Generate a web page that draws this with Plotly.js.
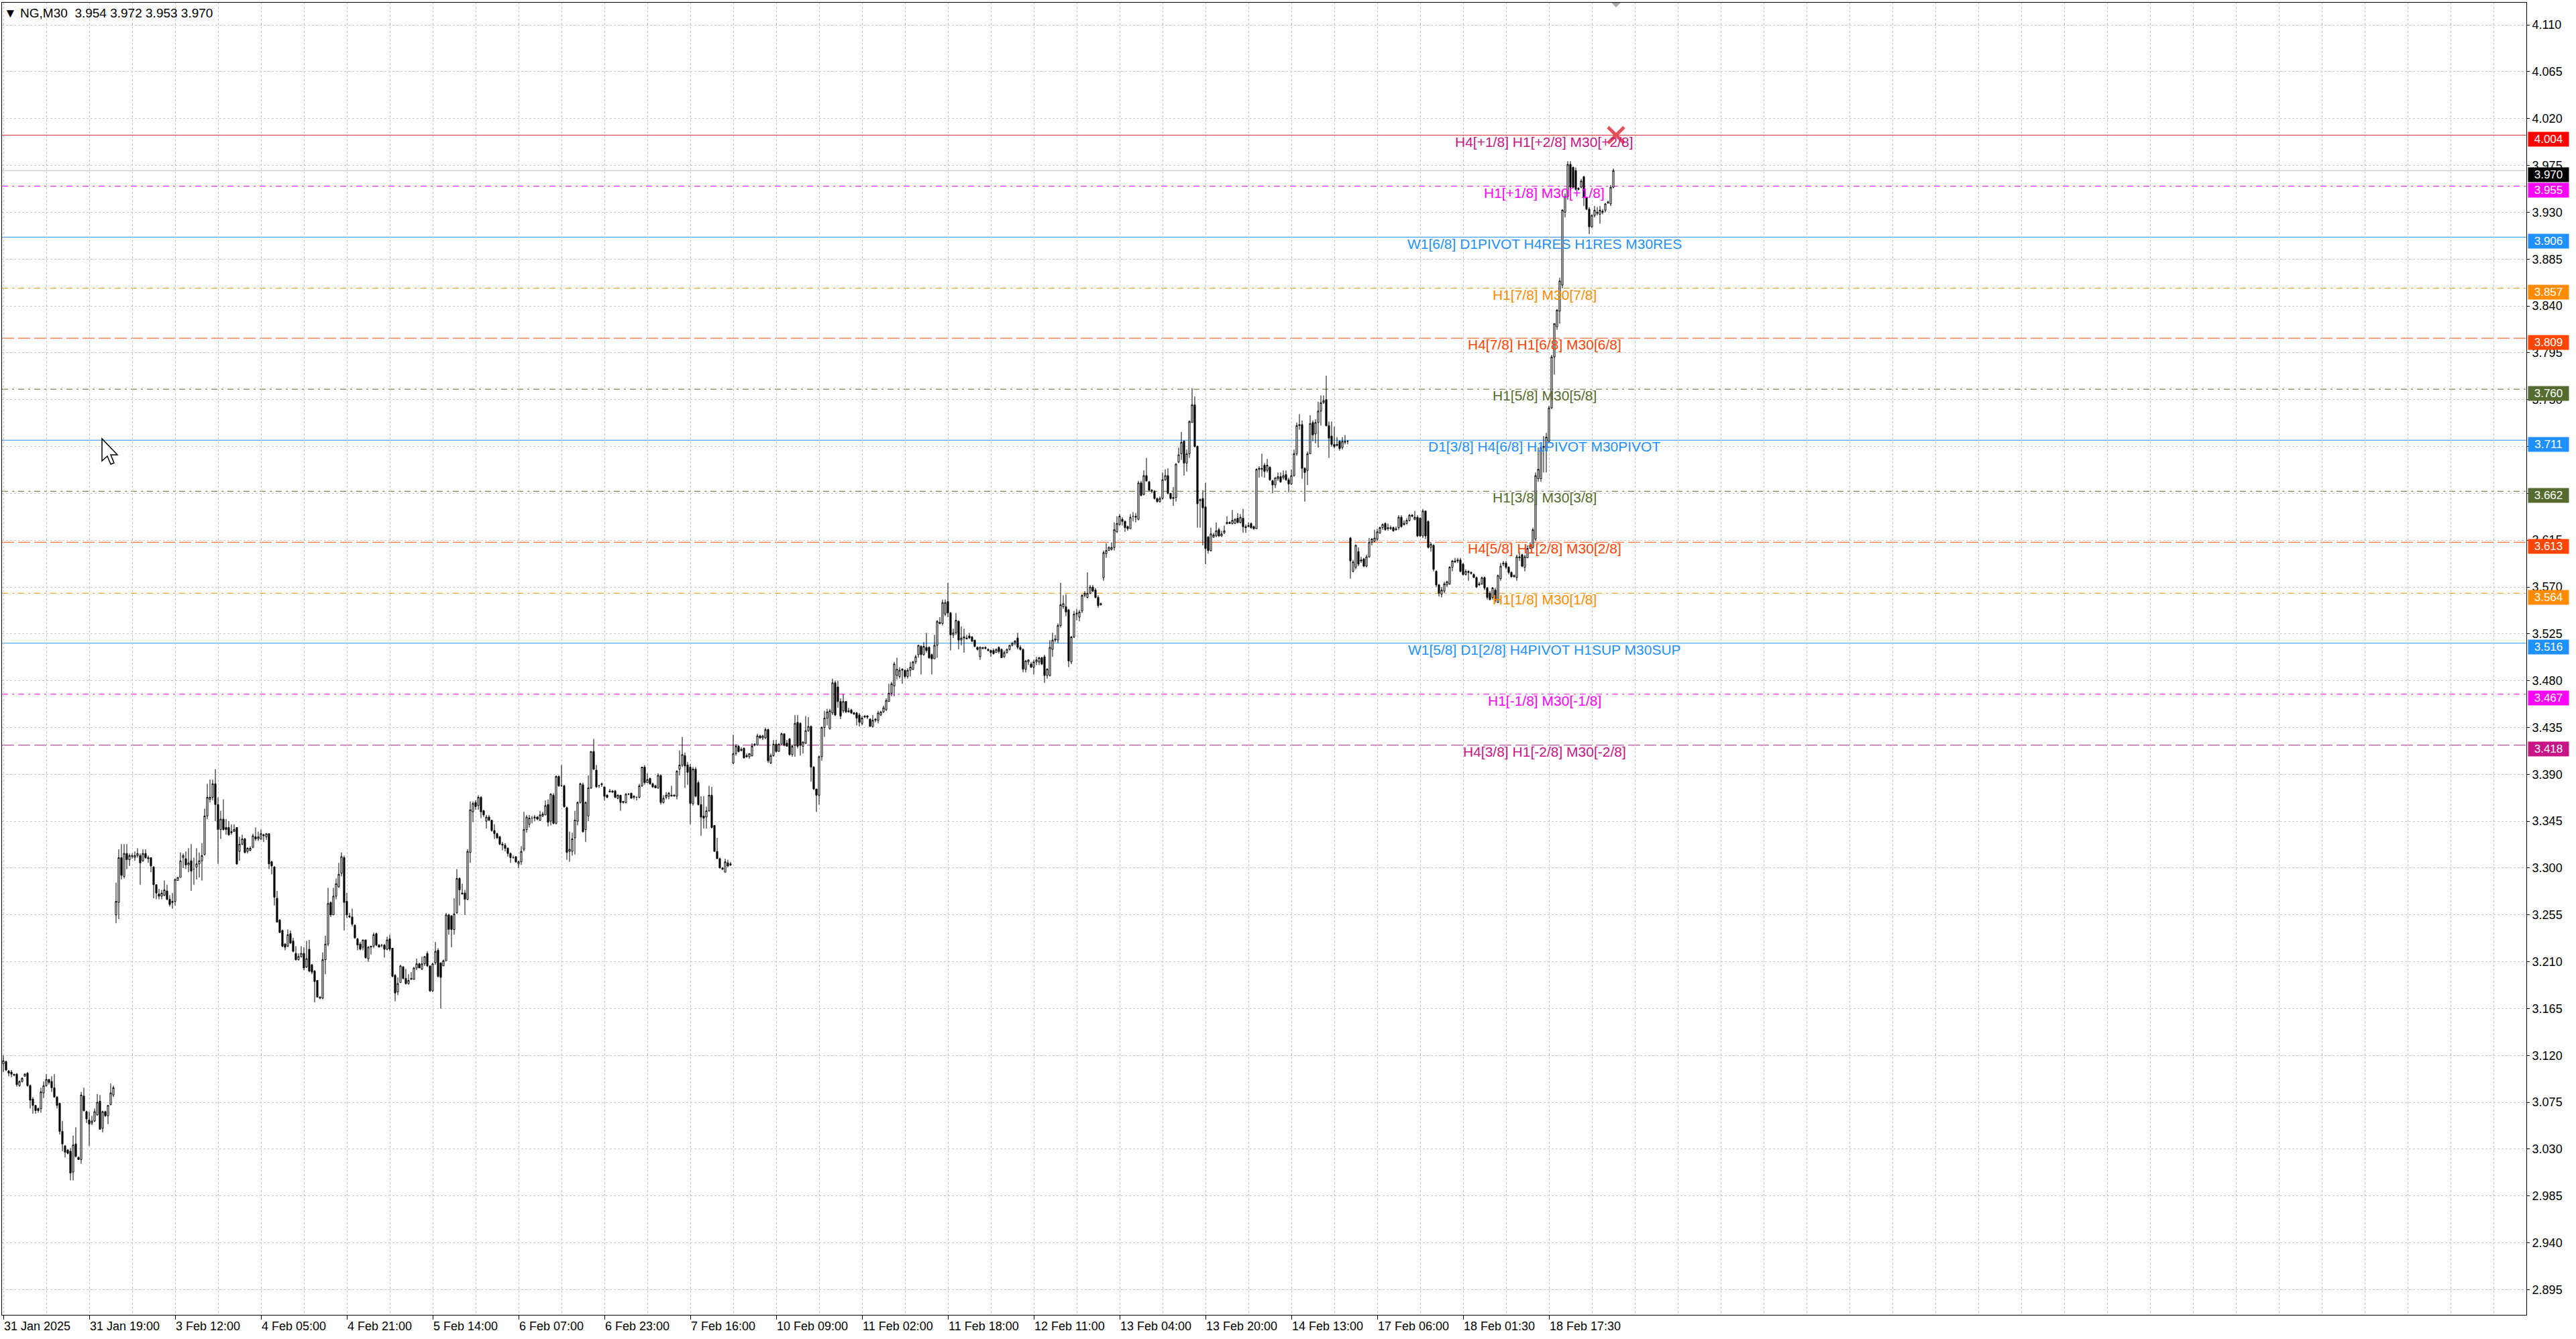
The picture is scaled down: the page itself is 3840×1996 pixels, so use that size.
<!DOCTYPE html>
<html><head><meta charset="utf-8">
<script src="https://cdn.plot.ly/plotly-3.0.1.min.js"></script>
<style>html,body{margin:0;padding:0;background:#fff;}#chart{width:3840px;height:1996px;}</style>
</head><body><div id="chart"></div>
<script>
// ---------------- DATA ----------------
const symbolName = "NG,M30";
const lastBar = [3.954, 3.972, 3.953, 3.970];

const openP = [
3.112,3.114,3.105,3.104,3.102,3.102,3.091,3.095,3.100,3.103,3.091,3.078,3.072,3.069,3.069,3.084,3.091,3.097,3.095,3.089,
3.080,3.074,3.047,3.033,3.029,3.028,3.008,3.035,3.022,3.020,3.081,3.066,3.058,3.055,3.057,3.063,3.076,3.050,3.066,3.062,
3.073,3.082,
3.255,3.267,3.310,3.292,3.314,3.308,3.311,3.310,3.312,3.312,3.307,3.314,3.310,3.310,3.301,3.284,3.275,3.273,3.274,3.278,
3.270,3.268,3.268,3.288,3.291,3.310,3.309,3.303,3.307,3.299,3.301,3.304,3.307,3.313,3.350,3.366,3.368,3.381,3.361,3.337,
3.347,3.339,3.339,3.335,3.335,3.339,3.316,3.323,3.328,3.316,3.317,3.320,3.330,3.328,3.328,3.332,3.330,3.333,3.306,3.301,
3.271,3.250,3.240,3.227,3.225,3.237,3.230,3.218,3.212,3.215,3.218,3.205,3.222,3.207,3.201,3.192,3.175,3.175,3.212,3.227,
3.267,3.255,
3.273,3.282,3.295,3.310,3.268,3.254,3.253,3.245,3.232,3.227,3.224,3.231,3.213,3.224,3.225,3.237,3.226,3.226,3.226,3.222,
3.232,3.223,3.197,3.181,3.190,3.205,3.194,3.189,3.194,3.193,3.204,3.208,3.203,3.208,3.218,3.206,3.182,3.209,3.221,3.209,
3.206,3.211,3.255,3.254,3.241,3.257,3.290,3.276,3.276,3.270,3.315,3.354,3.363,3.360,3.368,3.355,3.345,3.349,3.346,3.336,
3.333,3.330,3.323,3.322,3.319,3.314,3.310,3.311,3.304,3.306,3.318,3.337,3.342,3.348,3.348,3.349,3.346,3.350,3.351,3.361,
3.345,3.370,3.343,3.388,3.379,3.379,3.358,3.316,3.316,3.329,3.345,3.363,3.380,3.337,3.350,3.377,3.412,3.394,3.379,3.380,
3.378,3.370,3.373,3.374,3.374,3.367,3.370,3.363,3.363,3.371,3.372,3.369,3.368,3.368,3.379,3.397,3.382,3.386,3.381,3.379,
3.377,3.389,3.363,3.368,3.369,3.369,3.369,3.369,3.395,3.399,3.408,3.399,3.397,3.362,3.395,3.382,3.361,3.350,3.349,3.355,
3.370,3.341,3.316,3.309,3.300,3.296,3.305,3.303,
3.401,3.410,3.417,3.414,3.415,3.408,3.407,3.408,3.418,3.418,3.427,3.425,3.425,3.433,3.401,3.408,3.419,3.412,3.419,3.429,
3.420,3.424,3.409,3.418,3.440,3.439,3.417,3.420,3.432,3.436,3.397,3.376,3.370,3.407,3.435,3.444,3.434,3.449,3.478,3.474,
3.460,3.451,3.460,3.451,3.452,3.449,3.449,3.447,3.439,3.445,3.446,3.443,3.436,3.442,3.442,3.447,3.450,3.452,3.460,3.468,
3.475,3.485,3.484,3.490,3.490,3.484,3.490,3.491,3.498,3.505,3.513,3.505,3.512,3.512,3.505,3.501,3.514,3.536,3.535,3.544,
3.556,3.545,3.524,3.526,3.537,3.519,3.522,3.521,3.523,3.522,3.519,3.512,3.503,3.511,3.512,3.510,3.509,3.509,3.507,3.512,
3.510,3.503,3.507,3.510,3.514,3.516,3.521,3.512,3.510,3.491,3.498,3.496,3.493,3.498,3.498,3.502,3.503,3.485,3.485,3.510,
3.519,3.519,3.533,3.551,3.551,3.548,3.498,3.522,3.544,3.541,3.547,3.562,3.560,3.564,3.570,3.567,3.560,3.553,
3.579,3.602,3.605,3.606,3.608,3.623,3.630,3.635,3.633,3.628,3.626,3.638,3.638,3.635,3.670,3.659,3.677,3.671,3.663,3.662,
3.655,3.652,3.655,3.673,3.677,3.660,3.656,3.656,3.690,3.698,3.710,3.689,3.698,3.728,3.745,3.705,3.654,3.655,3.647,3.618,
3.605,3.618,3.619,3.625,3.619,3.622,3.632,3.632,3.631,3.631,3.636,3.632,3.636,3.628,3.629,3.631,3.628,3.626,3.684,3.683,
3.687,3.682,3.685,3.672,3.668,3.674,3.676,3.675,3.678,3.673,3.669,3.677,3.698,3.725,3.726,3.684,3.682,3.698,3.728,3.717,
3.728,3.739,3.747,3.750,3.725,3.715,3.707,3.707,3.710,3.704,3.710,3.710,
3.617,3.585,3.589,3.604,3.596,3.597,3.590,3.599,3.613,3.614,3.616,3.622,3.627,3.631,3.627,3.626,3.627,3.625,3.627,3.637,
3.631,3.631,3.634,3.639,3.635,3.637,3.636,3.619,3.643,3.633,3.608,3.610,3.585,3.572,3.563,3.566,3.572,3.573,3.589,3.595,
3.595,3.596,3.592,3.582,3.585,3.584,3.582,3.579,3.573,3.573,3.579,3.569,3.564,3.560,3.567,3.555,3.578,3.592,3.593,3.589,
3.584,3.581,3.579,3.598,3.601,3.589,3.598,3.607,3.608,3.616,3.674,3.674,3.704,3.701,3.710,3.742,3.791,3.820,3.835,3.860,
3.930,3.945,3.976,3.973,3.970,3.953,3.954,3.964,3.944,3.933,3.916,3.927,3.930,3.928,3.931,3.932,3.939,3.938,3.954
];
const highP = [
3.120,3.115,3.106,3.106,3.102,3.103,3.096,3.099,3.103,3.104,3.092,3.080,3.072,3.070,3.089,3.095,3.102,3.097,3.100,3.102,
3.081,3.074,3.057,3.034,3.030,3.031,3.043,3.051,3.023,3.085,3.089,3.067,3.066,3.062,3.069,3.083,3.082,3.067,3.067,3.072,
3.093,3.091,
3.286,3.318,3.323,3.323,3.323,3.314,3.314,3.316,3.319,3.314,3.318,3.318,3.312,3.310,3.302,3.284,3.280,3.279,3.288,3.284,
3.274,3.276,3.290,3.291,3.315,3.314,3.316,3.319,3.323,3.310,3.319,3.315,3.324,3.357,3.381,3.385,3.385,3.395,3.368,3.355,
3.366,3.347,3.345,3.342,3.342,3.339,3.330,3.332,3.329,3.320,3.321,3.333,3.339,3.335,3.337,3.333,3.333,3.333,3.307,3.302,
3.278,3.251,3.241,3.228,3.241,3.240,3.233,3.225,3.218,3.225,3.224,3.230,3.231,3.208,3.202,3.192,3.177,3.219,3.235,3.281,
3.268,3.281,
3.290,3.305,3.315,3.312,3.276,3.257,3.261,3.246,3.233,3.229,3.231,3.231,3.225,3.225,3.238,3.238,3.227,3.227,3.227,3.234,
3.236,3.223,3.198,3.195,3.207,3.206,3.203,3.198,3.200,3.205,3.213,3.209,3.215,3.215,3.220,3.206,3.209,3.229,3.223,3.209,
3.212,3.257,3.256,3.255,3.271,3.299,3.291,3.285,3.279,3.318,3.364,3.364,3.365,3.370,3.369,3.356,3.351,3.351,3.346,3.342,
3.334,3.331,3.325,3.324,3.320,3.315,3.312,3.311,3.307,3.321,3.354,3.351,3.351,3.350,3.351,3.350,3.355,3.354,3.365,3.366,
3.372,3.372,3.389,3.389,3.399,3.380,3.359,3.335,3.334,3.355,3.364,3.382,3.382,3.364,3.389,3.412,3.424,3.399,3.380,3.382,
3.378,3.371,3.376,3.375,3.375,3.371,3.370,3.364,3.372,3.372,3.372,3.370,3.369,3.381,3.397,3.399,3.391,3.387,3.382,3.380,
3.391,3.390,3.370,3.373,3.373,3.379,3.371,3.394,3.413,3.426,3.411,3.402,3.400,3.397,3.397,3.384,3.369,3.369,3.359,3.379,
3.378,3.341,3.329,3.310,3.301,3.309,3.308,3.306,
3.428,3.419,3.418,3.416,3.416,3.410,3.410,3.420,3.420,3.429,3.428,3.428,3.435,3.434,3.410,3.423,3.423,3.420,3.430,3.429,
3.423,3.425,3.418,3.447,3.447,3.440,3.422,3.446,3.445,3.437,3.398,3.376,3.408,3.436,3.451,3.453,3.453,3.482,3.480,3.480,
3.463,3.467,3.460,3.454,3.453,3.450,3.450,3.449,3.446,3.447,3.447,3.444,3.447,3.444,3.451,3.451,3.456,3.463,3.477,3.479,
3.498,3.502,3.493,3.492,3.491,3.492,3.498,3.499,3.505,3.514,3.514,3.517,3.526,3.513,3.506,3.524,3.538,3.541,3.558,3.558,
3.574,3.546,3.530,3.545,3.538,3.532,3.530,3.524,3.526,3.523,3.519,3.513,3.513,3.512,3.513,3.511,3.510,3.511,3.511,3.513,
3.511,3.509,3.511,3.514,3.517,3.519,3.526,3.514,3.511,3.500,3.500,3.498,3.500,3.503,3.503,3.503,3.505,3.492,3.519,3.526,
3.524,3.535,3.574,3.562,3.563,3.549,3.523,3.547,3.549,3.548,3.563,3.566,3.584,3.572,3.572,3.569,3.562,3.555,
3.605,3.612,3.609,3.613,3.632,3.638,3.640,3.637,3.634,3.629,3.640,3.642,3.641,3.672,3.672,3.682,3.694,3.672,3.664,3.663,
3.656,3.657,3.680,3.683,3.684,3.660,3.666,3.689,3.704,3.719,3.711,3.702,3.730,3.761,3.753,3.706,3.655,3.663,3.670,3.619,
3.627,3.622,3.632,3.627,3.624,3.629,3.638,3.633,3.644,3.636,3.641,3.640,3.645,3.630,3.632,3.632,3.629,3.684,3.686,3.698,
3.689,3.693,3.686,3.673,3.675,3.680,3.680,3.682,3.682,3.675,3.683,3.702,3.728,3.736,3.730,3.685,3.700,3.735,3.730,3.731,
3.748,3.754,3.754,3.773,3.729,3.729,3.724,3.714,3.711,3.714,3.716,3.711,
3.618,3.596,3.611,3.608,3.599,3.598,3.601,3.617,3.617,3.625,3.626,3.628,3.631,3.632,3.631,3.629,3.628,3.628,3.639,3.639,
3.634,3.636,3.640,3.640,3.643,3.639,3.637,3.645,3.643,3.634,3.613,3.611,3.586,3.573,3.570,3.575,3.576,3.590,3.596,3.598,
3.598,3.598,3.593,3.587,3.586,3.585,3.583,3.580,3.575,3.580,3.580,3.570,3.566,3.570,3.569,3.582,3.593,3.595,3.595,3.590,
3.585,3.582,3.601,3.604,3.602,3.601,3.610,3.613,3.627,3.680,3.704,3.707,3.715,3.718,3.744,3.793,3.823,3.837,3.867,3.933,
3.948,3.979,3.979,3.974,3.973,3.954,3.962,3.965,3.944,3.935,3.928,3.936,3.935,3.936,3.933,3.939,3.941,3.956,3.972
];
const lowP = [
3.104,3.105,3.100,3.099,3.100,3.090,3.090,3.094,3.100,3.090,3.069,3.064,3.064,3.065,3.065,3.079,3.090,3.092,3.085,3.080,
3.069,3.044,3.028,3.022,3.025,3.000,3.000,3.022,3.020,3.016,3.066,3.055,3.033,3.053,3.056,3.062,3.049,3.046,3.061,3.054,
3.072,3.080,
3.247,3.251,3.289,3.290,3.299,3.302,3.309,3.307,3.310,3.284,3.306,3.309,3.305,3.296,3.271,3.270,3.270,3.270,3.273,3.269,
3.263,3.261,3.264,3.288,3.291,3.300,3.299,3.296,3.278,3.284,3.289,3.291,3.288,3.312,3.347,3.363,3.365,3.345,3.304,3.328,
3.336,3.332,3.331,3.332,3.335,3.303,3.307,3.322,3.314,3.314,3.316,3.319,3.326,3.326,3.327,3.325,3.327,3.299,3.294,3.264,
3.248,3.238,3.224,3.221,3.224,3.227,3.219,3.211,3.211,3.214,3.202,3.204,3.200,3.198,3.171,3.176,3.174,3.174,3.198,3.225,
3.253,3.255,
3.270,3.281,3.292,3.240,3.252,3.252,3.244,3.232,3.221,3.221,3.221,3.213,3.210,3.217,3.223,3.225,3.224,3.224,3.214,3.221,
3.220,3.195,3.172,3.178,3.190,3.193,3.188,3.188,3.193,3.193,3.202,3.204,3.202,3.206,3.205,3.181,3.181,3.207,3.195,3.165,
3.206,3.211,3.236,3.224,3.236,3.256,3.264,3.275,3.255,3.269,3.305,3.344,3.356,3.356,3.348,3.349,3.338,3.345,3.335,3.328,
3.328,3.322,3.317,3.316,3.311,3.305,3.309,3.305,3.300,3.303,3.316,3.334,3.339,3.343,3.345,3.346,3.345,3.349,3.351,3.340,
3.341,3.342,3.342,3.378,3.378,3.358,3.308,3.306,3.312,3.313,3.341,3.362,3.334,3.325,3.345,3.376,3.394,3.377,3.377,3.378,
3.365,3.367,3.373,3.372,3.367,3.366,3.355,3.362,3.362,3.370,3.367,3.366,3.365,3.367,3.378,3.380,3.382,3.380,3.377,3.377,
3.376,3.361,3.362,3.366,3.366,3.369,3.369,3.366,3.389,3.397,3.377,3.380,3.342,3.360,3.368,3.360,3.331,3.338,3.338,3.354,
3.338,3.316,3.309,3.300,3.298,3.296,3.301,3.302,
3.400,3.408,3.411,3.412,3.405,3.406,3.405,3.407,3.417,3.418,3.424,3.423,3.424,3.401,3.400,3.407,3.411,3.412,3.419,3.417,
3.417,3.408,3.407,3.407,3.415,3.408,3.410,3.419,3.431,3.383,3.375,3.354,3.361,3.403,3.426,3.437,3.433,3.447,3.446,3.454,
3.443,3.449,3.449,3.450,3.448,3.447,3.437,3.436,3.437,3.444,3.443,3.436,3.435,3.440,3.439,3.446,3.449,3.451,3.460,3.465,
3.465,3.481,3.482,3.477,3.482,3.482,3.484,3.490,3.496,3.502,3.486,3.504,3.507,3.501,3.486,3.501,3.502,3.534,3.533,3.542,
3.541,3.509,3.521,3.524,3.510,3.514,3.507,3.520,3.520,3.517,3.512,3.509,3.500,3.510,3.510,3.508,3.503,3.505,3.507,3.506,
3.502,3.502,3.506,3.509,3.513,3.514,3.510,3.509,3.488,3.488,3.495,3.492,3.486,3.495,3.495,3.495,3.478,3.482,3.484,3.503,
3.517,3.516,3.531,3.549,3.542,3.493,3.496,3.521,3.538,3.537,3.545,3.560,3.559,3.563,3.565,3.559,3.550,3.552,
3.576,3.598,3.605,3.605,3.605,3.622,3.629,3.629,3.623,3.624,3.626,3.633,3.632,3.634,3.657,3.658,3.671,3.662,3.660,3.654,
3.651,3.651,3.654,3.672,3.659,3.654,3.648,3.652,3.689,3.692,3.677,3.681,3.694,3.728,3.704,3.627,3.627,3.610,3.592,3.602,
3.604,3.617,3.618,3.618,3.618,3.621,3.630,3.631,3.630,3.631,3.631,3.631,3.622,3.622,3.628,3.626,3.625,3.626,3.675,3.676,
3.675,3.680,3.672,3.660,3.665,3.672,3.670,3.673,3.672,3.661,3.668,3.676,3.696,3.721,3.674,3.652,3.668,3.698,3.710,3.708,
3.704,3.725,3.746,3.724,3.694,3.705,3.703,3.705,3.701,3.702,3.707,3.707,
3.578,3.584,3.587,3.590,3.593,3.589,3.589,3.598,3.610,3.613,3.614,3.621,3.625,3.624,3.624,3.625,3.623,3.624,3.625,3.627,
3.629,3.630,3.633,3.637,3.634,3.618,3.618,3.617,3.616,3.607,3.604,3.585,3.570,3.561,3.560,3.564,3.570,3.572,3.585,3.593,
3.593,3.584,3.581,3.581,3.576,3.582,3.579,3.569,3.571,3.572,3.567,3.558,3.557,3.558,3.555,3.555,3.576,3.590,3.587,3.582,
3.579,3.579,3.576,3.595,3.589,3.585,3.598,3.607,3.607,3.614,3.671,3.671,3.680,3.680,3.709,3.741,3.774,3.817,3.823,3.857,
3.925,3.942,3.951,3.953,3.951,3.951,3.953,3.936,3.932,3.909,3.915,3.925,3.927,3.919,3.928,3.930,3.938,3.936,3.953
];
const closeP = [
3.115,3.106,3.103,3.102,3.101,3.092,3.095,3.098,3.102,3.091,3.077,3.072,3.067,3.067,3.085,3.091,3.097,3.094,3.089,3.080,
3.072,3.047,3.035,3.027,3.026,3.007,3.034,3.023,3.020,3.082,3.067,3.059,3.054,3.057,3.066,3.075,3.049,3.066,3.062,3.072,
3.084,3.089,
3.268,3.310,3.293,3.314,3.308,3.312,3.312,3.312,3.314,3.305,3.314,3.310,3.309,3.302,3.284,3.276,3.273,3.276,3.279,3.270,
3.265,3.267,3.289,3.291,3.307,3.312,3.303,3.305,3.297,3.299,3.304,3.307,3.312,3.350,3.368,3.368,3.381,3.361,3.337,3.347,
3.337,3.337,3.332,3.334,3.337,3.304,3.323,3.328,3.315,3.319,3.319,3.331,3.328,3.330,3.333,3.331,3.333,3.304,3.302,3.272,
3.248,3.238,3.225,3.224,3.236,3.228,3.220,3.212,3.215,3.218,3.204,3.213,3.201,3.200,3.191,3.176,3.176,3.212,3.227,3.266,
3.255,3.273,
3.285,3.294,3.311,3.267,3.255,3.253,3.246,3.233,3.226,3.222,3.231,3.214,3.224,3.225,3.236,3.226,3.224,3.226,3.222,3.231,
3.222,3.196,3.180,3.189,3.206,3.194,3.189,3.192,3.193,3.204,3.208,3.204,3.208,3.215,3.206,3.182,3.208,3.220,3.196,3.195,
3.211,3.255,3.241,3.241,3.256,3.290,3.279,3.275,3.270,3.316,3.356,3.362,3.359,3.368,3.354,3.351,3.349,3.346,3.336,3.333,
3.329,3.323,3.322,3.319,3.314,3.310,3.310,3.306,3.306,3.316,3.337,3.349,3.348,3.348,3.349,3.347,3.351,3.352,3.360,3.344,
3.371,3.343,3.388,3.379,3.379,3.359,3.315,3.318,3.328,3.346,3.363,3.381,3.335,3.363,3.377,3.412,3.395,3.378,3.379,3.381,
3.369,3.368,3.374,3.373,3.368,3.370,3.363,3.364,3.371,3.371,3.367,3.368,3.368,3.379,3.397,3.382,3.385,3.381,3.378,3.377,
3.389,3.363,3.367,3.370,3.372,3.370,3.370,3.393,3.399,3.409,3.398,3.392,3.362,3.395,3.369,3.361,3.349,3.348,3.355,3.370,
3.339,3.316,3.309,3.300,3.299,3.306,3.302,3.304,
3.410,3.417,3.412,3.413,3.406,3.407,3.410,3.417,3.419,3.427,3.425,3.427,3.433,3.403,3.408,3.419,3.412,3.419,3.429,3.418,
3.417,3.409,3.417,3.439,3.417,3.418,3.421,3.432,3.436,3.397,3.376,3.370,3.407,3.435,3.444,3.450,3.451,3.478,3.447,3.460,
3.446,3.460,3.450,3.450,3.449,3.448,3.444,3.440,3.444,3.446,3.445,3.436,3.442,3.443,3.449,3.450,3.454,3.461,3.468,3.477,
3.496,3.491,3.490,3.491,3.484,3.490,3.493,3.498,3.503,3.514,3.505,3.513,3.509,3.502,3.501,3.514,3.537,3.535,3.555,3.555,
3.545,3.524,3.526,3.538,3.519,3.521,3.521,3.520,3.521,3.518,3.513,3.510,3.512,3.512,3.511,3.509,3.507,3.506,3.510,3.508,
3.502,3.507,3.510,3.514,3.516,3.518,3.512,3.510,3.491,3.499,3.500,3.493,3.498,3.500,3.502,3.496,3.485,3.491,3.512,3.519,
3.520,3.533,3.553,3.554,3.546,3.499,3.522,3.544,3.545,3.546,3.562,3.564,3.564,3.570,3.566,3.560,3.552,3.554,
3.603,3.605,3.608,3.608,3.625,3.631,3.638,3.633,3.627,3.626,3.637,3.638,3.637,3.670,3.658,3.677,3.672,3.663,3.662,3.655,
3.652,3.655,3.673,3.677,3.660,3.655,3.655,3.688,3.697,3.709,3.689,3.698,3.729,3.745,3.705,3.650,3.653,3.646,3.607,3.605,
3.621,3.620,3.624,3.619,3.621,3.624,3.631,3.631,3.634,3.635,3.632,3.637,3.628,3.627,3.628,3.627,3.626,3.683,3.683,3.684,
3.681,3.687,3.673,3.668,3.675,3.676,3.671,3.677,3.673,3.669,3.677,3.698,3.725,3.726,3.684,3.680,3.698,3.727,3.716,3.728,
3.739,3.747,3.749,3.725,3.713,3.707,3.705,3.706,3.703,3.710,3.709,3.710,
3.595,3.594,3.610,3.592,3.595,3.590,3.599,3.613,3.616,3.617,3.623,3.627,3.630,3.625,3.626,3.627,3.624,3.626,3.637,3.628,
3.630,3.634,3.639,3.638,3.637,3.619,3.619,3.643,3.619,3.608,3.611,3.587,3.572,3.564,3.567,3.573,3.575,3.589,3.595,3.594,
3.596,3.585,3.582,3.585,3.584,3.583,3.579,3.570,3.572,3.579,3.569,3.560,3.558,3.569,3.557,3.581,3.590,3.593,3.589,3.584,
3.580,3.580,3.599,3.599,3.590,3.599,3.607,3.610,3.625,3.677,3.683,3.704,3.705,3.714,3.742,3.791,3.823,3.836,3.864,3.932,
3.945,3.976,3.954,3.954,3.952,3.952,3.960,3.944,3.933,3.916,3.927,3.932,3.929,3.932,3.930,3.938,3.940,3.954,3.970
];

// time labels, one every 32 bars (M30), starting at the first bar
const timeLabels = ["31 Jan 2025","31 Jan 19:00","3 Feb 12:00","4 Feb 05:00","4 Feb 21:00","5 Feb 14:00",
  "6 Feb 07:00","6 Feb 23:00","7 Feb 16:00","10 Feb 09:00","11 Feb 02:00","11 Feb 18:00","12 Feb 11:00",
  "13 Feb 04:00","13 Feb 20:00","14 Feb 13:00","17 Feb 06:00","18 Feb 01:30","18 Feb 17:30"];
const barsPerLabel = 32;

// Murrey-math / pivot levels
const levelPrices = [4.004, 3.955, 3.906, 3.857, 3.809, 3.760, 3.711, 3.662, 3.613, 3.564, 3.516, 3.467, 3.418];
const levelLabels = ["H4[+1/8] H1[+2/8] M30[+2/8]", "H1[+1/8] M30[+1/8]", "W1[6/8] D1PIVOT H4RES H1RES M30RES",
  "H1[7/8] M30[7/8]", "H4[7/8] H1[6/8] M30[6/8]", "H1[5/8] M30[5/8]", "D1[3/8] H4[6/8] H1PIVOT M30PIVOT",
  "H1[3/8] M30[3/8]", "H4[5/8] H1[2/8] M30[2/8]", "H1[1/8] M30[1/8]", "W1[5/8] D1[2/8] H4PIVOT H1SUP M30SUP",
  "H1[-1/8] M30[-1/8]", "H4[3/8] H1[-2/8] M30[-2/8]"];
const bidPrice = 3.970;
const crossMark = {bar: 601, price: 4.004};

// ---------------- STYLES ----------------
const levelLineColor = ["#E03030","#FF00FF","#1E90FF","#FF8C00","#FF4500","#556B2F","#1E90FF","#556B2F","#FF4500","#FF8C00","#1E90FF","#FF00FF","#A0207A"];
const levelTextColor = ["#C71585","#FF00FF","#1E90FF","#FF8C00","#FF4500","#556B2F","#1E90FF","#556B2F","#FF4500","#FF8C00","#1E90FF","#FF00FF","#C71585"];
const levelTagColor  = ["#FF0000","#FF00FF","#1E90FF","#FF8C00","#FF4500","#556B2F","#1E90FF","#556B2F","#FF4500","#FF8C00","#1E90FF","#FF00FF","#C71585"];
const levelStyle = ["solid","dashdot","solid","dashdot","dash","dashdot","solid","dashdot","dash","dashdot","solid","dashdot","dash"];
const dashMap = {solid:"solid", dash:"18px,6px", dashdot:"9px,6px,3px,6px"};

const uiFont = "Liberation Sans, Arial, sans-serif";
const bars = closeP.map((_, i) => i);

const traces = [{
  type: "candlestick", x: bars, open: openP, high: highP, low: lowP, close: closeP,
  increasing: {line: {color: "#000000", width: 1}, fillcolor: "#FFFFFF"},
  decreasing: {line: {color: "#000000", width: 1}, fillcolor: "#000000"},
  whiskerwidth: 0, hoverinfo: "skip", showlegend: false
}, {
  type: "scatter", mode: "markers", x: [crossMark.bar], y: [crossMark.price],
  marker: {symbol: "x-thin", size: 24, color: "#E4505A", line: {width: 5, color: "#E4505A"}},
  hoverinfo: "skip", showlegend: false
}];

const shapes = [];
const annotations = [];
levelPrices.forEach((p, i) => {
  shapes.push({type: "line", xref: "paper", x0: 0, x1: 1, yref: "y", y0: p, y1: p, layer: "between",
    line: {color: levelLineColor[i], width: 1, dash: dashMap[levelStyle[i]]}});
  annotations.push({xref: "paper", x: 0.6110, xanchor: "center", yref: "y", y: p, yanchor: "top", yshift: 4,
    text: levelLabels[i], showarrow: false, font: {family: uiFont, size: 21, color: levelTextColor[i]}});
  annotations.push({xref: "paper", x: 1, xanchor: "left", xshift: 2, yref: "y", y: p, yanchor: "middle", yshift: -6,
    text: p.toFixed(3), showarrow: false, bgcolor: levelTagColor[i], borderpad: 0, width: 60, height: 21,
    font: {family: uiFont, size: 17, color: "#FFFFFF"}});
});
shapes.push({type: "line", xref: "paper", x0: 0, x1: 1, yref: "y", y0: bidPrice, y1: bidPrice, layer: "between",
  line: {color: "#C0C0C0", width: 1}});
annotations.push({xref: "paper", x: 1, xanchor: "left", xshift: 2, yref: "y", y: bidPrice, yanchor: "middle", yshift: -6,
  text: bidPrice.toFixed(3), showarrow: false, bgcolor: "#000000", borderpad: 0, width: 60, height: 21,
  font: {family: uiFont, size: 17, color: "#FFFFFF"}});
// header
annotations.push({xref: "paper", x: 0, xanchor: "left", xshift: 1, yref: "paper", y: 1, yanchor: "top", yshift: -3,
  text: "\u25BC " + symbolName + "  " + lastBar.map(v => v.toFixed(3)).join(" "), showarrow: false,
  font: {family: uiFont, size: 19, color: "#000000"}});
// chart-shift marker at top
shapes.push({type: "path", xref: "x", xsizemode: "pixel", xanchor: crossMark.bar, yref: "paper", ysizemode: "pixel", yanchor: 1,
  path: "M -7 0 L 7 0 L 0 -7 Z", fillcolor: "#A9A9A9", line: {width: 0}});
// mouse pointer left in the screenshot
shapes.push({type: "path", xref: "paper", xsizemode: "pixel", xanchor: 0.0396, yref: "paper", ysizemode: "pixel", yanchor: 0.6677,
  path: "M 0 0 L 0 -33 L 8 -26 L 13 -38 L 18 -36 L 13 -24 L 23 -24 Z", fillcolor: "#FFFFFF", line: {color: "#000000", width: 1.5}, layer: "above"});

const tickVals = timeLabels.map((_, i) => i * barsPerLabel);
const minorVals = [];
for (let v = 0; v <= 944; v += barsPerLabel / 2) minorVals.push(v);

const layout = {
  width: 3840, height: 1996,
  margin: {l: 3, r: 74, t: 4, b: 36, pad: 0},
  paper_bgcolor: "#FFFFFF", plot_bgcolor: "#FFFFFF",
  showlegend: false, boxgap: 0.25, dragmode: false,
  xaxis: {
    range: [-0.5, 940.25], tickmode: "array", tickvals: tickVals, ticktext: timeLabels,
    ticks: "outside", ticklen: 6, tickcolor: "#000", tickwidth: 1,
    ticklabelposition: "outside right",
    tickfont: {family: uiFont, size: 18, color: "#000"},
    showgrid: false, zeroline: false,
    showline: true, mirror: true, linecolor: "#000", linewidth: 1,
    rangeslider: {visible: false},
    minor: {tickmode: "array", tickvals: minorVals, showgrid: true, gridcolor: "#C8C8C8", griddash: "3px,3px", gridwidth: 1, ticks: ""}
  },
  yaxis: {
    side: "right", range: [2.8708, 4.1313], tickmode: "linear", tick0: 2.895, dtick: 0.045, tickformat: ".3f",
    ticks: "outside", ticklen: 4, tickcolor: "#000",
    tickfont: {family: uiFont, size: 18, color: "#000"},
    showgrid: true, gridcolor: "#C8C8C8", griddash: "3px,3px", gridwidth: 1, zeroline: false,
    showline: true, mirror: true, linecolor: "#000", linewidth: 1
  },
  shapes: shapes,
  annotations: annotations
};

Plotly.newPlot("chart", traces, layout, {staticPlot: true, displayModeBar: false});
</script>
</body></html>
